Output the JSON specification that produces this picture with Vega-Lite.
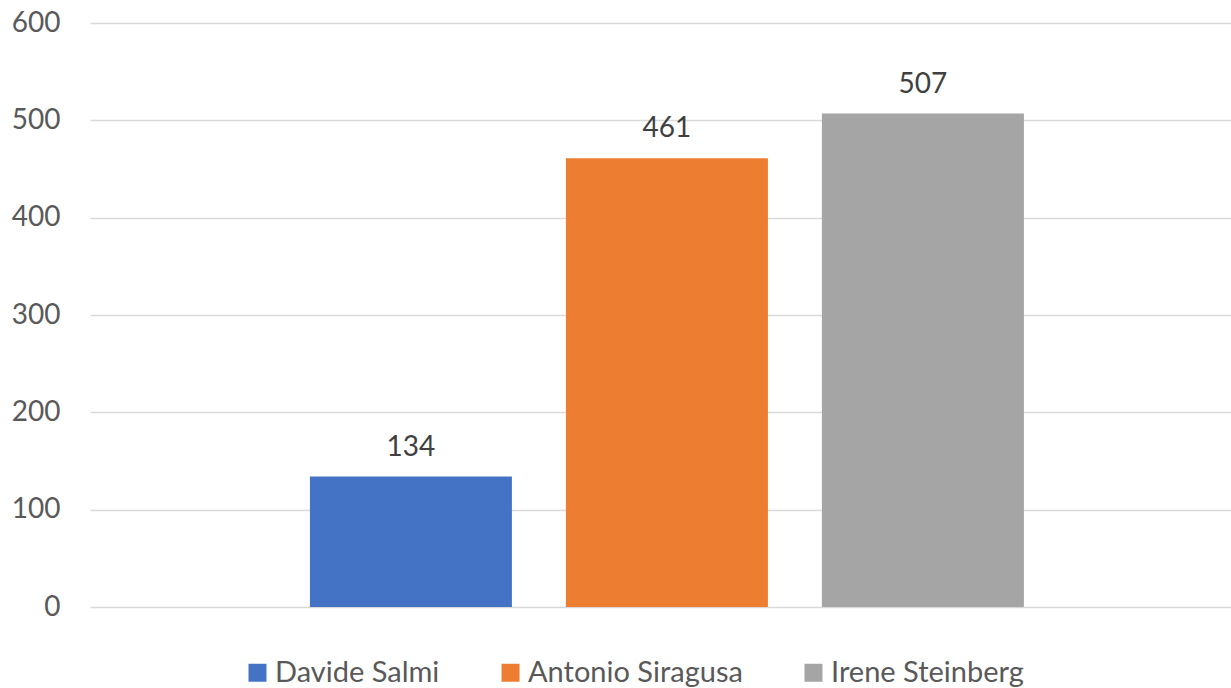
{
  "$schema": "https://vega.github.io/schema/vega-lite/v6.json",
  "width": 1141,
  "height": 584,
  "autosize": "none",
  "padding": {"left": 90, "top": 23, "right": 0, "bottom": 81},
  "background": "white",
  "config": {
    "view": {"stroke": null},
    "font": "Lato"
  },
  "data": {
    "values": [
      {"name": "Davide Salmi", "value": 134},
      {"name": "Antonio Siragusa", "value": 461},
      {"name": "Irene Steinberg", "value": 507}
    ]
  },
  "encoding": {
    "x": {
      "field": "name",
      "type": "nominal",
      "sort": null,
      "axis": null,
      "scale": {"paddingInner": 0.211, "paddingOuter": 0.834, "align": 0.515}
    },
    "y": {
      "field": "value",
      "type": "quantitative",
      "scale": {"domain": [0, 600], "nice": false},
      "axis": {
        "values": [0, 100, 200, 300, 400, 500, 600],
        "title": null,
        "domain": false,
        "ticks": false,
        "labelPadding": 30,
        "labelFontSize": 28,
        "labelColor": "#595959",
        "labelFont": "Lato",
        "gridColor": "#d9d9d9",
        "gridWidth": 1.5
      }
    }
  },
  "layer": [
    {
      "mark": {"type": "bar"},
      "encoding": {
        "color": {
          "field": "name",
          "type": "nominal",
          "sort": null,
          "scale": {"range": ["#4472C4", "#ED7D31", "#A5A5A5"]},
          "legend": {
            "orient": "none",
            "legendX": 153,
            "legendY": 635,
            "direction": "horizontal",
            "title": null,
            "symbolType": "square",
            "symbolSize": 324,
            "symbolStrokeWidth": 0,
            "labelFontSize": 29,
            "labelOffset": 3,
            "labelColor": "#595959",
            "labelFont": "Lato",
            "columnPadding": 56,
            "labelLimit": 400
          }
        }
      }
    },
    {
      "mark": {"type": "text", "baseline": "bottom", "dy": -15, "fontSize": 28, "color": "#404040", "font": "Lato"},
      "encoding": {"text": {"field": "value", "type": "quantitative"}}
    }
  ]
}
